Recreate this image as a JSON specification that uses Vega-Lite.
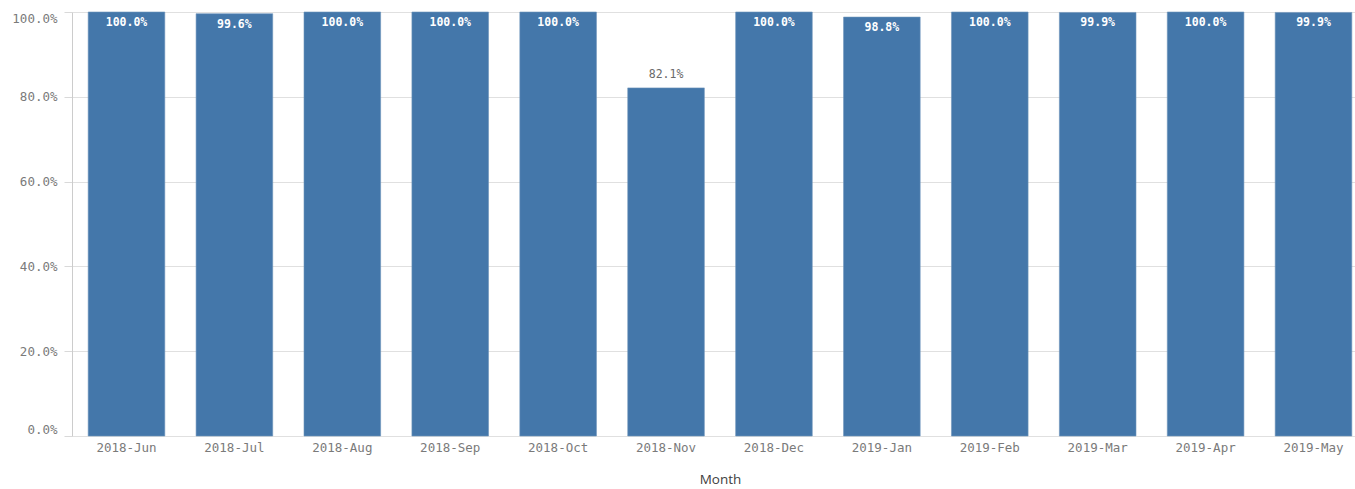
{
  "$schema": "https://vega.github.io/schema/vega-lite/v6.json",
  "width": 1296,
  "height": 424,
  "autosize": {"type": "none"},
  "padding": {"left": 72, "top": 12, "right": 0, "bottom": 53},
  "background": "white",
  "config": {"view": {"stroke": null}},
  "data": {"values": [
    {"Month": "2018-Jun", "Pct": 1.000},
    {"Month": "2018-Jul", "Pct": 0.996},
    {"Month": "2018-Aug", "Pct": 1.000},
    {"Month": "2018-Sep", "Pct": 1.000},
    {"Month": "2018-Oct", "Pct": 1.000},
    {"Month": "2018-Nov", "Pct": 0.821},
    {"Month": "2018-Dec", "Pct": 1.000},
    {"Month": "2019-Jan", "Pct": 0.988},
    {"Month": "2019-Feb", "Pct": 1.000},
    {"Month": "2019-Mar", "Pct": 0.999},
    {"Month": "2019-Apr", "Pct": 1.000},
    {"Month": "2019-May", "Pct": 0.999}
  ]},
  "encoding": {
    "x": {
      "field": "Month", "type": "nominal", "sort": null,
      "scale": {"paddingInner": 0.29, "paddingOuter": 0.15},
      "axis": {
        "title": "Month", "labelAngle": 0, "ticks": false, "domain": false,
        "labelFont": "DejaVu Sans Mono", "labelFontSize": 12.5, "labelColor": "#7a7a7a",
        "labelPadding": 5, "titleFont": "Open Sans", "titleFontSize": 13.5,
        "titleFontWeight": "normal", "titleColor": "#404040", "titlePadding": 19
      }
    },
    "y": {
      "field": "Pct", "type": "quantitative",
      "scale": {"domain": [0, 1], "nice": false},
      "axis": {
        "title": null, "format": ".1%", "values": [0, 0.2, 0.4, 0.6, 0.8, 1.0],
        "labelFont": "DejaVu Sans Mono", "labelFontSize": 12.5, "labelColor": "#7a7a7a",
        "labelFlush": true, "labelFlushOffset": 0, "labelPadding": 7,
        "tickSize": 8, "tickColor": "#d9d9d9", "domainColor": "#cccccc",
        "gridColor": "#e0e0e0"
      }
    }
  },
  "layer": [
    {"mark": {"type": "bar", "color": "#4477aa", "stroke": "#6d93bb", "strokeWidth": 0.6}},
    {
      "transform": [{"filter": "datum.Pct >= 0.9"}],
      "mark": {"type": "text", "baseline": "middle", "dy": 11, "font": "DejaVu Sans Mono", "fontSize": 11.5, "fontWeight": "bold", "color": "#ffffff"},
      "encoding": {"text": {"field": "Pct", "format": ".1%"}}
    },
    {
      "transform": [{"filter": "datum.Pct < 0.9"}],
      "mark": {"type": "text", "baseline": "middle", "dy": -13, "font": "DejaVu Sans Mono", "fontSize": 11.5, "color": "#6a6a6a"},
      "encoding": {"text": {"field": "Pct", "format": ".1%"}}
    }
  ]
}
